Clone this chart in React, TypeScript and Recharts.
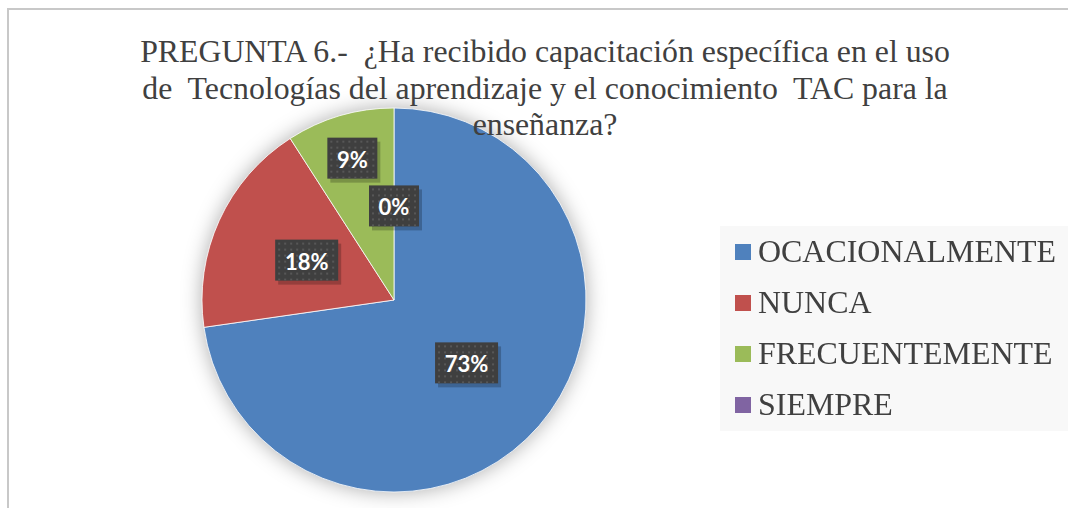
import { Cell, Pie, PieChart } from "recharts";

const categories = ["OCACIONALMENTE", "NUNCA", "FRECUENTEMENTE", "SIEMPRE"];
const counts = [8, 2, 1, 0];
const percentLabels = ["73%", "18%", "9%", "0%"];
const colors = ["#4F81BD", "#C0504D", "#9BBB59", "#8064A2"];
const labelRadius = [0.5, 0.5, 0.77, 0.49];

const titleLines = [
  "PREGUNTA 6.-  ¿Ha recibido capacitación específica en el uso",
  "de  Tecnologías del aprendizaje y el conocimiento  TAC para la",
  "enseñanza?",
];

const data = categories.map((name, i) => ({ name, value: counts[i] }));

const RADIAN = Math.PI / 180;

function PctLabel(props: any) {
  const { cx, cy, midAngle, outerRadius, index } = props;
  const r = outerRadius * labelRadius[index];
  const x = cx + r * Math.cos(-midAngle * RADIAN);
  const y = cy + r * Math.sin(-midAngle * RADIAN);
  const text = percentLabels[index];
  const w = text.length > 2 ? 63 : 50;
  const h = 41;
  const pid = `dots-${index}`;
  return (
    <g>
      <defs>
        <pattern id={pid} width="6" height="6" patternUnits="userSpaceOnUse" x={x - w / 2} y={y - h / 2}>
          <rect x="3" y="3" width="2" height="2" fill="#575757" />
        </pattern>
      </defs>
      <rect x={x - w / 2 + 3} y={y - h / 2 + 4} width={w} height={h} fill="rgba(0,0,0,0.22)" />
      <rect x={x - w / 2} y={y - h / 2} width={w} height={h} fill="#3f3f3f" />
      <rect x={x - w / 2} y={y - h / 2} width={w} height={h} fill={`url(#${pid})`} />
      <text
        x={x}
        y={y + 1}
        textAnchor="middle"
        dominantBaseline="central"
        fill="#ffffff"
        fontFamily="Lato, 'Open Sans', sans-serif"
        fontWeight={700}
        fontSize={22}
      >
        {text}
      </text>
    </g>
  );
}

export default function App() {
  return (
    <div
      style={{
        position: "absolute",
        left: 0,
        top: 0,
        width: 1068,
        height: 508,
        overflow: "hidden",
        background: "#ffffff",
      }}
    >
      <style>{`.recharts-pie { filter: drop-shadow(0 0 10px rgba(0,0,0,0.32)); }`}</style>
      <div
        style={{
          position: "absolute",
          left: 7,
          top: 8,
          width: 1200,
          height: 700,
          borderLeft: "2px solid #c8c8c8",
          borderTop: "2px solid #c8c8c8",
        }}
      />
      <div style={{ position: "absolute", left: 0, top: 0 }}>
        <PieChart width={1068} height={508} margin={{ top: 0, right: 0, bottom: 0, left: 0 }}>
          <Pie
            data={data}
            dataKey="value"
            nameKey="name"
            cx={394}
            cy={300}
            outerRadius={192}
            startAngle={90}
            endAngle={-270}
            stroke="#ffffff"
            strokeWidth={0.8}
            labelLine={false}
            label={PctLabel}
            isAnimationActive={false}
          >
            {data.map((d, i) => (
              <Cell key={d.name} fill={colors[i]} />
            ))}
          </Pie>
        </PieChart>
      </div>
      <div
        style={{
          position: "absolute",
          left: 0,
          top: 34,
          width: 1090,
          textAlign: "center",
          fontFamily: "'Liberation Serif', 'Times New Roman', serif",
          fontSize: 31.8,
          lineHeight: "36.5px",
          color: "#404040",
          whiteSpace: "pre",
        }}
      >
        {titleLines.map((l) => (
          <div key={l}>{l}</div>
        ))}
      </div>
      <div
        style={{
          position: "absolute",
          left: 720,
          top: 226,
          width: 348,
          height: 205,
          background: "#f8f8f8",
          fontFamily: "'Liberation Serif', 'Times New Roman', serif",
          fontSize: 31,
          color: "#404040",
        }}
      >
        {categories.map((c, i) => (
          <div
            key={c}
            style={{
              position: "absolute",
              left: 15,
              top: 26 + i * 51 - 17,
              height: 34,
              display: "flex",
              alignItems: "center",
              whiteSpace: "nowrap",
            }}
          >
            <span style={{ width: 16, height: 16, background: colors[i], marginRight: 7, display: "inline-block" }} />
            <span style={{ display: "inline-block", transform: "scaleX(1.03)", transformOrigin: "0 50%" }}>{c}</span>
          </div>
        ))}
      </div>
    </div>
  );
}
